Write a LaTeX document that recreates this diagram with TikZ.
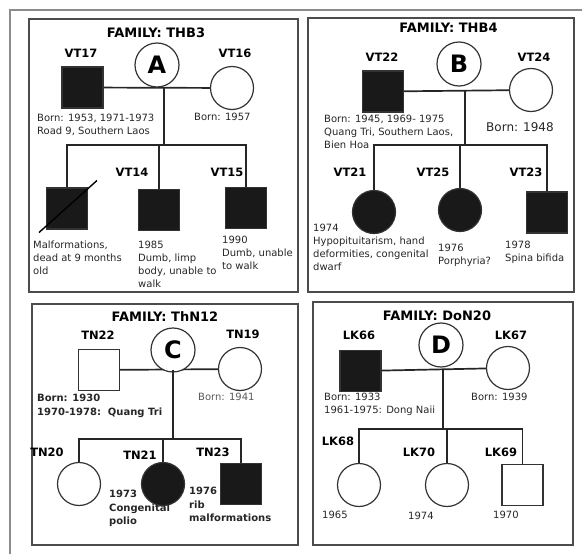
\documentclass[tikz,border=0pt]{standalone}
\usepackage{fontspec}
\setmainfont{DejaVu Sans}
\usepackage{tikz}
\usetikzlibrary{arrows.meta,calc}
\tikzset{
  >=stealth,
  line cap=round,
  line join=round,
  kin/.style={line width=1.7pt, draw=black!85},
  male/.style={draw=black!80, line width=1.2pt, minimum size=41pt, inner sep=0pt},
  female/.style={circle, draw=black!80, line width=1.2pt, minimum size=43pt, inner sep=0pt},
  affected/.style={fill=black!90},
  tag/.style={font=\fontsize{11.5}{13}\selectfont\bfseries},
  note/.style={font=\fontsize{10}{13}\selectfont, align=left, anchor=north west, inner sep=0pt, text=black!85},
  boldnote/.style={note, font=\fontsize{10}{13.5}\selectfont\bfseries},
  famtitle/.style={font=\fontsize{13}{14}\selectfont\bfseries},
  famletter/.style={circle, draw=black!80, line width=1.2pt, minimum size=44pt, inner sep=0pt, fill=white, font=\fontsize{24}{24}\selectfont\bfseries},
  panel/.style={draw=black!70, line width=1.3pt},
  frame/.style={draw=black!45, line width=1.4pt}
}

\begin{document}
\begin{tikzpicture}[x=1pt, y=-1pt]
\useasboundingbox (0,0) rectangle (582,554);

% 바깥 틀
\draw[frame] (10,554) -- (10,10) -- (582,10);

% 네 가족 틀
\draw[panel] (29,19) rectangle (298,292);
\draw[panel] (308,18) rectangle (574,292);
\draw[panel] (32,304) rectangle (298,545);
\draw[panel] (313,302) rectangle (573,545);

% 가족 A: THB3
\node[famtitle] (ta) at (156,33) {FAMILY: THB3};
\node[male, affected] (vt17) at (82.5,87.5) {};
\node[tag] at (81,53) {VT17};
\node[female] (vt16) at (232,88) {};
\node[tag] at (235,53) {VT16};
\draw[kin] (vt17) -- (vt16);
\node[famletter] (fa) at (157,65) {A};
\coordinate (a-mid) at (164,88);
\coordinate (a-sib) at (164,145);
\draw[kin] (a-mid) -- (a-sib);
\node[male, affected] (a1) at (67,208.5) {};
\node[male, affected] (vt14) at (159,210) {};
\node[tag] at (132,172) {VT14};
\node[male, affected] (vt15) at (246,208) {};
\node[tag] at (227,172) {VT15};
\draw[kin] (a1) |- (a-sib) -| (vt15);
\draw[kin] (vt14) -- (vt14 |- a-sib);
\draw[line width=1.4pt] ([shift={(-28,24)}]a1.center) -- ([shift={(30,-28)}]a1.center);
\node[note] at (37,114) {Born: 1953, 1971-1973\\Road 9, Southern Laos};
\node[note] at (194,113) {Born: 1957};
\node[note] at (33,241) {Malformations,\\dead at 9 months\\old};
\node[note] at (138,241) {1985\\Dumb, limp\\body, unable to\\walk};
\node[note] at (222,236) {1990\\Dumb, unable\\to walk};

% 가족 B: THB4
\node[famtitle] (tb) at (448.5,28) {FAMILY: THB4};
\node[male, affected] (vt22) at (383,91.5) {};
\node[tag] at (382,57) {VT22};
\node[female] (vt24) at (531,90) {};
\node[tag] at (534,57) {VT24};
\draw[kin] (vt22) -- (vt24);
\node[famletter] (fb) at (459,64) {B};
\coordinate (b-mid) at (465,90);
\coordinate (b-sib) at (465,145);
\draw[kin] (b-mid) -- (b-sib);
\node[female, affected] (vt21) at (374,212) {};
\node[tag] at (350,172) {VT21};
\node[female, affected] (vt25) at (460,210) {};
\node[tag] at (433,172) {VT25};
\node[male, affected] (vt23) at (547,212.5) {};
\node[tag] at (526,172) {VT23};
\draw[kin] (vt21) |- (b-sib) -| (vt23);
\draw[kin] (vt25) -- (vt25 |- b-sib);
\node[note] at (324,115) {Born: 1945, 1969- 1975\\Quang Tri, Southern Laos,\\Bien Hoa};
\node[note, font=\fontsize{12}{14}\selectfont] at (486,122) {Born: 1948};
\node[note] at (313,224) {1974\\Hypopituitarism, hand\\deformities, congenital\\dwarf};
\node[note] at (438,244) {1976\\Porphyria?};
\node[note] at (505,241) {1978\\Spina bifida};

% 가족 C: ThN12
\node[famtitle] (tc) at (165,317) {FAMILY: ThN12};
\node[male] (tn22) at (99,370) {};
\node[tag] at (98,335) {TN22};
\node[female] (tn19) at (240,369) {};
\node[tag] at (243,334) {TN19};
\draw[kin] (tn22) -- (tn19);
\node[famletter] (fc) at (173,350) {C};
\coordinate (c-mid) at (173,370);
\coordinate (c-sib) at (173,439);
\draw[kin] (c-mid) -- (c-sib);
\node[female] (tn20) at (79,484) {};
\node[tag] at (47,452) {TN20};
\node[female, affected] (tn21) at (163,484) {};
\node[tag] at (140,455) {TN21};
\node[male, affected] (tn23) at (241,484) {};
\node[tag] at (213,452) {TN23};
\draw[kin] (tn20) |- (c-sib) -| (tn23);
\draw[kin] (tn21) -- (tn21 |- c-sib);
\node[boldnote] at (37,394) {Born: 1930\\1970-1978:\ \ Quang Tri};
\node[note, text=black!65] at (198,393) {Born: 1941};
\node[boldnote] at (109,490) {1973\\Congenital\\polio};
\node[boldnote] at (189,487) {1976\\rib\\malformations};

% 가족 D: DoN20
\node[famtitle] (td) at (437,316) {FAMILY: DoN20};
\node[male, affected] (lk66) at (360.5,371) {};
\node[tag] at (359,335) {LK66};
\node[female] (lk67) at (508,368) {};
\node[tag] at (511,335) {LK67};
\draw[kin] (lk66) -- (lk67);
\node[famletter] (fd) at (441,345) {D};
\coordinate (d-mid) at (443,370);
\coordinate (d-sib) at (443,429);
\draw[kin] (d-mid) -- (d-sib);
\node[female] (lk68) at (359,485) {};
\node[tag] at (338,441) {LK68};
\node[female] (lk70) at (447,485) {};
\node[tag] at (419,452) {LK70};
\node[male] (lk69) at (522.5,485) {};
\node[tag] at (501,452) {LK69};
\draw[kin] (lk68) |- (d-sib) -| (lk69);
\draw[kin] (lk70) -- (lk70 |- d-sib);
\node[note] at (324,393) {Born: 1933\\1961-1975: Dong Naii};
\node[note] at (471,393) {Born: 1939};
\node[note] at (322,511) {1965};
\node[note] at (408,512) {1974};
\node[note] at (493,511) {1970};

\end{tikzpicture}
\end{document}
